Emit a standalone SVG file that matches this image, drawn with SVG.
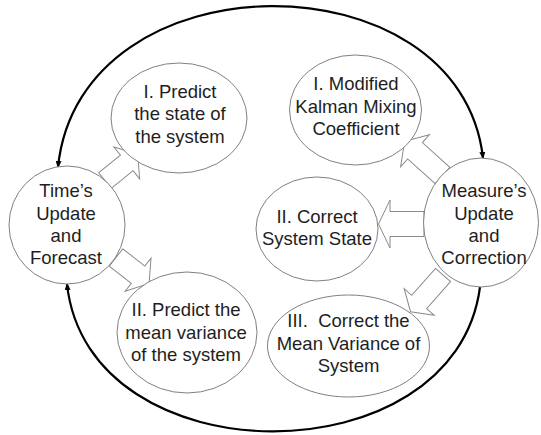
<svg xmlns="http://www.w3.org/2000/svg" width="541" height="435" viewBox="0 0 541 435">
<style>
.node ellipse{fill:#fff;stroke:#808080;stroke-width:1}
.node text{font-family:"Liberation Sans",Arial,sans-serif;font-size:18.5px;fill:#1e1e1e;text-anchor:middle;white-space:pre}
.cycle{fill:none;stroke:#000;stroke-width:2.2}
.blk{fill:none;stroke:#8a8a8a;stroke-width:1}
</style>
<defs>
<marker id="ah" markerUnits="userSpaceOnUse" markerWidth="7" markerHeight="6" refX="6" refY="3" orient="auto-start-reverse">
<path d="M0,0 L7,3 L0,6 Z" fill="#000"/>
</marker>
</defs>
<rect width="541" height="435" fill="#fff"/>
<g id="connectors">
<path class="cycle" d="M58,167 C80,-46 460,-46 483,158" marker-start="url(#ah)" marker-end="url(#ah)"/>
<path class="cycle" d="M480,287 C455,480 88,480 67,284" marker-end="url(#ah)"/>
<path class="blk" transform="translate(105,180.5) rotate(-39)" d="M0,-10 H28 V-20.5 L42,0 L28,20.5 V10 H0 Z"/>
<path class="blk" transform="translate(116,257.5) rotate(38)" d="M0,-11 H28 V-21 L42,0 L28,21 V11 H0 Z"/>
<path class="blk" transform="translate(442.5,175.5) rotate(-138)" d="M0,-11 H37 V-21.5 L51,0 L37,21.5 V11 H0 Z"/>
<path class="blk" transform="translate(424,224) rotate(180)" d="M0,-12.5 H34 V-24 L45.5,0 L34,24 V12.5 H0 Z"/>
<path class="blk" transform="translate(443,275) rotate(131.5)" d="M0,-10 H36 V-20 L49,0 L36,20 V10 H0 Z"/>
</g>
<g id="time-update" class="node">
<ellipse cx="67" cy="225" rx="58" ry="59"/>
<text x="66" y="196.5">Time’s</text>
<text x="66" y="219.5">Update</text>
<text x="66" y="241.5">and</text>
<text x="66" y="263.5">Forecast</text>
</g>
<g id="predict-state" class="node">
<ellipse cx="179" cy="118" rx="68" ry="55"/>
<text x="180" y="97.5">I. Predict</text>
<text x="180" y="119.5">the state of</text>
<text x="180" y="142.5">the system</text>
</g>
<g id="predict-variance" class="node">
<ellipse cx="187" cy="332.5" rx="70" ry="60.5"/>
<text x="186" y="315.5">II. Predict the</text>
<text x="186" y="338.5">mean variance</text>
<text x="186" y="360.5">of the system</text>
</g>
<g id="kalman" class="node">
<ellipse cx="355.5" cy="110" rx="66" ry="55"/>
<text x="356" y="89.5">I. Modified</text>
<text x="356" y="112.5">Kalman Mixing</text>
<text x="356" y="134.5">Coefficient</text>
</g>
<g id="correct-state" class="node">
<ellipse cx="317" cy="229" rx="61" ry="52"/>
<text x="317" y="222.5">II. Correct</text>
<text x="317" y="244.5">System State</text>
</g>
<g id="measure-update" class="node">
<ellipse cx="481" cy="222.5" rx="57.5" ry="64.5"/>
<text x="484" y="196.5">Measure’s</text>
<text x="484" y="219.5">Update</text>
<text x="484" y="241.5">and</text>
<text x="484" y="263.5">Correction</text>
</g>
<g id="correct-variance" class="node">
<ellipse cx="348.5" cy="346" rx="81" ry="51"/>
<text x="348.5" y="326.5">III.  Correct the</text>
<text x="348.5" y="349.5">Mean Variance of</text>
<text x="348.5" y="371.5">System</text>
</g>
</svg>
